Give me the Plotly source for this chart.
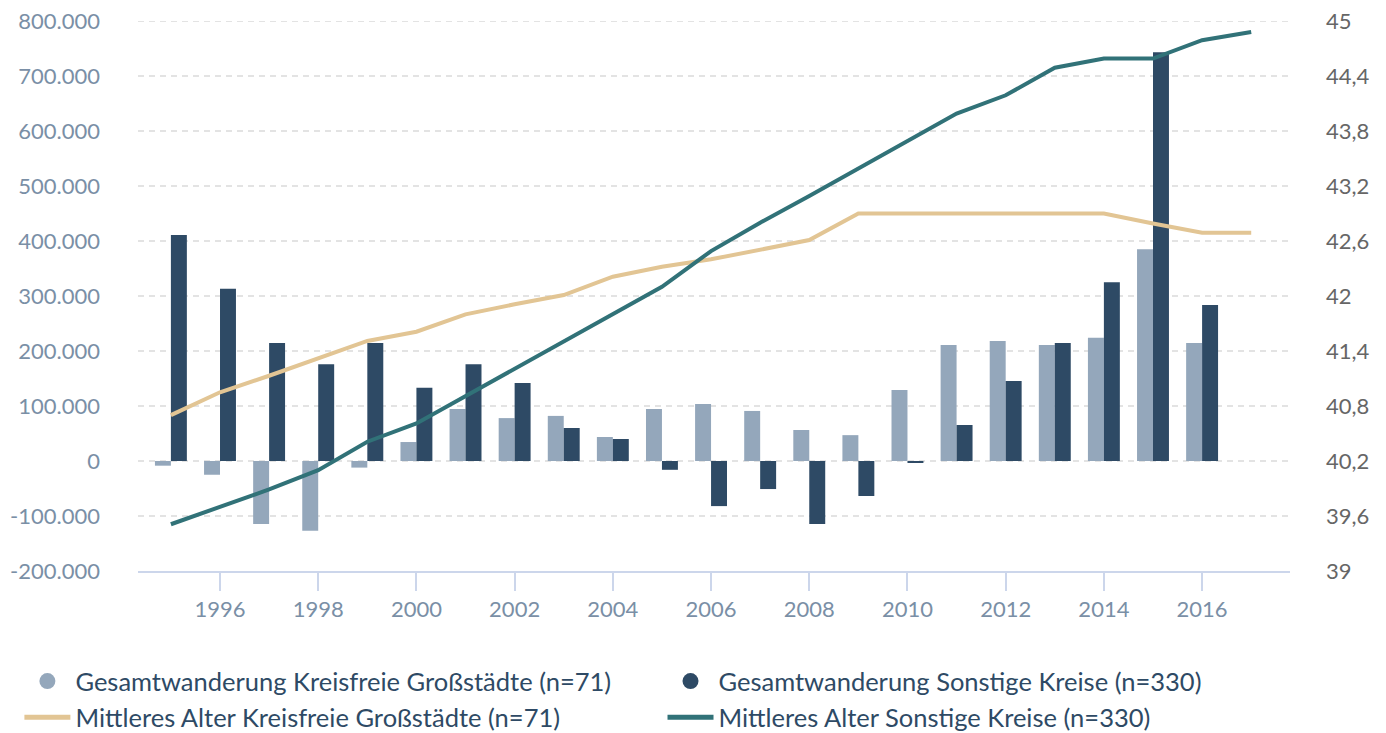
import plotly.graph_objects as go

years = list(range(1995, 2018))
bar_years = list(range(1995, 2017))

# Gesamtwanderung (persons)
wand_kreisfrei = [-8500, -25000, -114500, -126700, -12000, 34500, 94500, 78000, 82000, 43600,
                  94500, 103600, 91000, 56400, 47000, 129000, 211000, 218000, 211000, 224000,
                  385000, 214500]
wand_sonstige = [411000, 313000, 214500, 176000, 214500, 133000, 176000, 142000, 60000, 40000,
                 -16000, -82000, -51000, -114500, -63600, -3000, 65500, 145500, 214500, 325000,
                 743000, 283600]

# Mittleres Alter (years)
alter_kreisfrei = [40.70, 40.95, 41.13, 41.32, 41.51, 41.61, 41.80, 41.91, 42.01, 42.21, 42.32,
                   42.40, 42.50, 42.61, 42.90, 42.90, 42.90, 42.90, 42.90, 42.90, 42.79, 42.69, 42.69]
alter_sonstige = [39.51, 39.70, 39.89, 40.10, 40.41, 40.61, 40.91, 41.20, 41.50, 41.80, 42.10,
                  42.49, 42.80, 43.09, 43.39, 43.69, 43.99, 44.19, 44.49, 44.59, 44.59, 44.79, 44.88]

left_tickvals = [-200000, -100000, 0, 100000, 200000, 300000, 400000, 500000, 600000, 700000, 800000]
left_ticktext = ["-200.000", "-100.000", "0", "100.000", "200.000", "300.000", "400.000",
                 "500.000", "600.000", "700.000", "800.000"]
right_tickvals = [39, 39.6, 40.2, 40.8, 41.4, 42, 42.6, 43.2, 43.8, 44.4, 45]
right_ticktext = ["39", "39,6", "40,2", "40,8", "41,4", "42", "42,6", "43,2", "43,8", "44,4", "45"]
x_tickvals = [1996, 1998, 2000, 2002, 2004, 2006, 2008, 2010, 2012, 2014, 2016]

names = ["Gesamtwanderung Kreisfreie Großstädte (n=71)",
         "Gesamtwanderung Sonstige Kreise (n=330)",
         "Mittleres Alter Kreisfreie Großstädte (n=71)",
         "Mittleres Alter Sonstige Kreise (n=330)"]

c_light = "#94a7bb"
c_dark = "#2e4a65"
c_tan = "#e2c594"
c_teal = "#317278"
c_grid = "#e3e3e3"
FONT = "Lato"

fig = go.Figure()
fig.add_trace(go.Bar(x=bar_years, y=wand_kreisfrei, marker_color=c_light, marker_line_width=0,
                     name=names[0], showlegend=False))
fig.add_trace(go.Bar(x=bar_years, y=wand_sonstige, marker_color=c_dark, marker_line_width=0,
                     name=names[1], showlegend=False))
fig.add_trace(go.Scatter(x=years, y=alter_kreisfrei, mode="lines", line=dict(color=c_tan, width=4),
                         name=names[2], yaxis="y2", showlegend=False))
fig.add_trace(go.Scatter(x=years, y=alter_sonstige, mode="lines", line=dict(color=c_teal, width=4),
                         name=names[3], yaxis="y2", showlegend=False))

# legend entries (circle symbols for bars, lines for ages) in two columns
fig.add_trace(go.Scatter(x=[None], y=[None], mode="markers", legend="legend",
                         marker=dict(color=c_light, size=16, symbol="circle"), name=names[0]))
fig.add_trace(go.Scatter(x=[None], y=[None], mode="lines", legend="legend",
                         line=dict(color=c_tan, width=5), name=names[2]))
fig.add_trace(go.Scatter(x=[None], y=[None], mode="markers", legend="legend2",
                         marker=dict(color=c_dark, size=16, symbol="circle"), name=names[1]))
fig.add_trace(go.Scatter(x=[None], y=[None], mode="lines", legend="legend2",
                         line=dict(color=c_teal, width=5), name=names[3]))

legend_common = dict(orientation="v", xref="container", yref="container", y=0.1023,
                     xanchor="left", yanchor="top", tracegroupgap=0, bgcolor="rgba(0,0,0,0)",
                     font=dict(family=FONT, size=25.5, color="#2e4a65"), itemwidth=46)

fig.update_layout(
    width=1386, height=733,
    margin=dict(l=138, r=96, t=21, b=162, autoexpand=False),
    paper_bgcolor="white", plot_bgcolor="white",
    font=dict(family=FONT, color="#2e4a65"),
    barmode="group", bargap=0.35, bargroupgap=0.0,
    xaxis=dict(range=[1994.33, 2017.79], tickvals=x_tickvals, showgrid=False, automargin=False,
               showline=True, linecolor="#ccd6eb", linewidth=2,
               ticks="outside", ticklen=18, tickwidth=2, tickcolor="#ccd6eb",
               tickfont=dict(family=FONT, size=22, color="#7a8fa6"), zeroline=False),
    yaxis=dict(range=[-200000, 800000], tickvals=left_tickvals, ticktext=left_ticktext,
               showgrid=True, gridcolor=c_grid, griddash="6px,5px", gridwidth=2,
               zeroline=False, ticklabelstandoff=37, automargin=False,
               ticklabeloverflow="allow",
               tickfont=dict(family=FONT, size=22, color="#7a8fa6")),
    yaxis2=dict(range=[39, 45], tickvals=right_tickvals, ticktext=right_ticktext,
                overlaying="y", side="right", showgrid=False, zeroline=False,
                ticklabelstandoff=35, automargin=False, ticklabeloverflow="allow",
                tickfont=dict(family=FONT, size=22, color="#666666")),
    legend=dict(x=0.014, **legend_common),
    legend2=dict(x=0.478, **legend_common),
)

# top gridline (plotly drops the grid line lying on the plot edge)
fig.add_shape(type="line", xref="paper", x0=0, x1=1, yref="y", y0=left_tickvals[-1],
              y1=left_tickvals[-1], line=dict(color=c_grid, width=2, dash="6px,5px"), layer="below")

fig.write_html("out.html", post_script="document.body.style.margin='0px';",
               config={"displayModeBar": False})
